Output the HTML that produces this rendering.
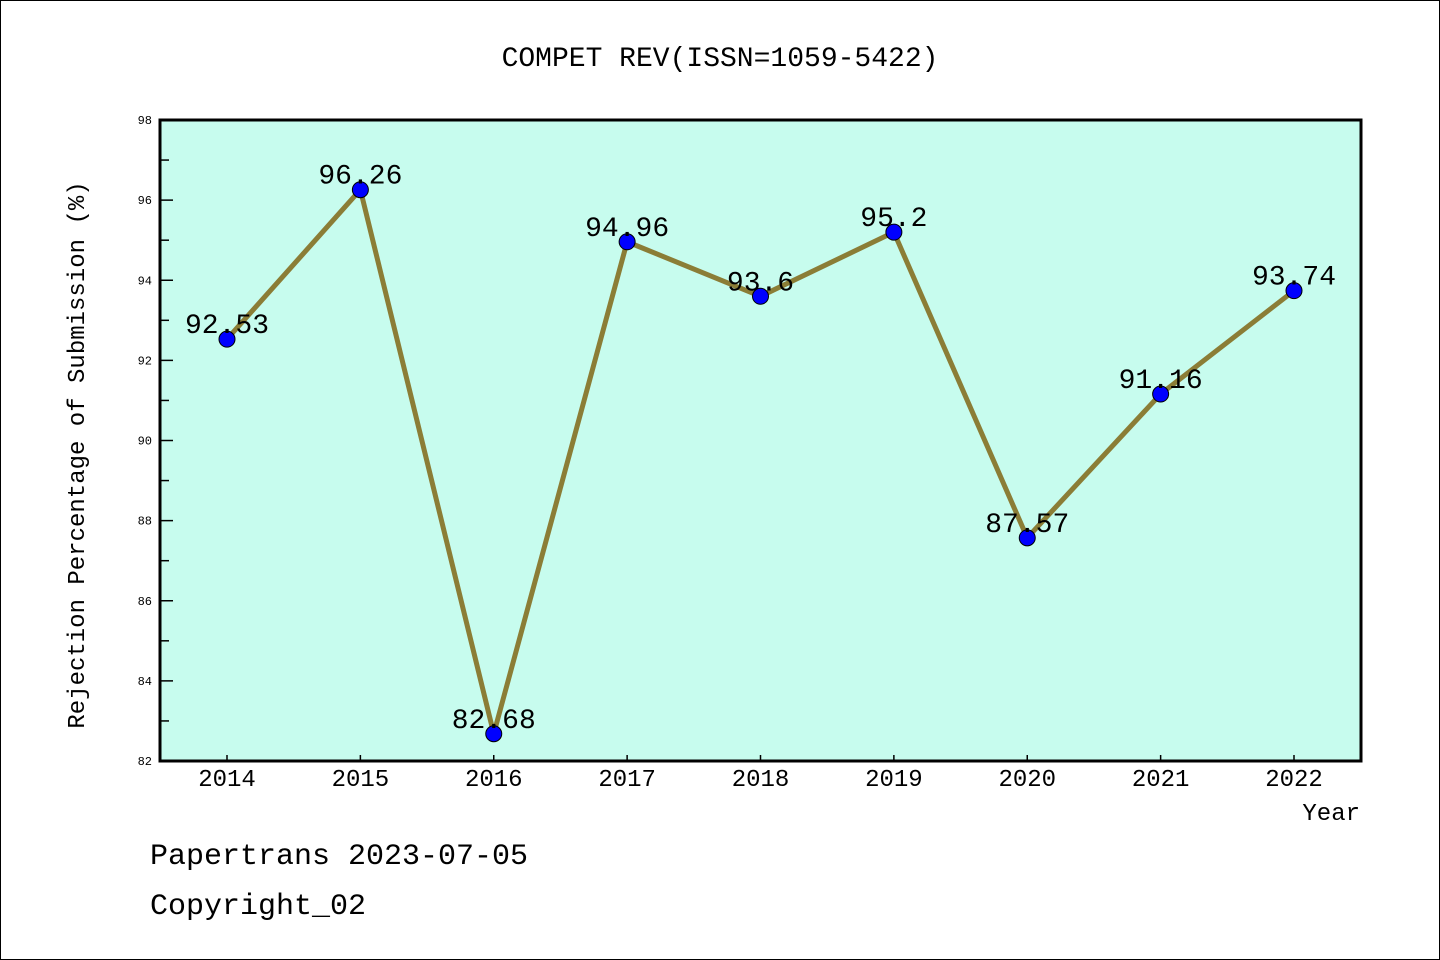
<!DOCTYPE html>
<html><head><meta charset="utf-8"><style>
html,body{margin:0;padding:0;background:#fff;}
svg{display:block;font-family:"WenQuanYi Zen Hei","Liberation Mono",monospace;}
</style></head><body>
<svg id="chart" width="1440" height="960" viewBox="0 0 1440 960">
<rect x="0.5" y="0.5" width="1439" height="959" fill="#fff" stroke="#000" stroke-width="1"/>
<text x="720" y="66" text-anchor="middle" font-size="28">COMPET REV(ISSN=1059-5422)</text>
<rect x="160" y="120" width="1201" height="641" fill="#c7fcee"/>
<g id="ticks"></g>
<g id="series"></g>
<rect x="160" y="120" width="1201" height="641" fill="none" stroke="#000" stroke-width="3"/>
<text transform="translate(84,455) rotate(-90)" text-anchor="middle" font-size="24">Rejection Percentage of Submission (%)</text>
<text x="1360" y="820" text-anchor="end" font-size="24">Year</text>
<text x="150" y="864" font-size="30">Papertrans 2023-07-05</text>
<text x="150" y="914" font-size="30">Copyright_02</text>
</svg>
<script>
const years = ["2014","2015","2016","2017","2018","2019","2020","2021","2022"];
const values = [92.53,96.26,82.68,94.96,93.6,95.2,87.57,91.16,93.74];
const labels = ["92.53","96.26","82.68","94.96","93.6","95.2","87.57","91.16","93.74"];
const yTicks = [82,84,86,88,90,92,94,96,98];
const yMin = 82, yMax = 98;
const NS = "http://www.w3.org/2000/svg";
function xs(i){ return 227 + i*(1294-227)/(years.length-1); }
function ys(v){ return 761 - (v-yMin)/(yMax-yMin)*641; }
function mk(tag, attrs, parent){ const e=document.createElementNS(NS,tag); for(const k in attrs) e.setAttribute(k,attrs[k]); parent.appendChild(e); return e; }
const tg=document.getElementById('ticks');
yTicks.forEach(t=>{
  const y=ys(t);
  const l=mk('line',{x1:160,x2:173,y1:y,y2:y,stroke:'#000','stroke-width':1.5},tg);
  
  
  const tx=mk('text',{x:152,y:y+4,'text-anchor':'end','font-size':12},tg);
  tx.textContent=t;
  
  
  if(t<yMax){
    const ym=ys(t+1);
    const m=mk('line',{x1:160,x2:169,y1:ym,y2:ym,stroke:'#000','stroke-width':1.5},tg);
    
    
  }
});
years.forEach((yr,i)=>{
  const x=xs(i);
  const l=mk('line',{x1:x,x2:x,y1:761,y2:755,stroke:'#000','stroke-width':1.5},tg);
  
  
  const tx=mk('text',{x:x,y:786,'text-anchor':'middle','font-size':24},tg);
  tx.textContent=yr;
  
  
});
const sg=document.getElementById('series');
const pts=values.map((v,i)=>xs(i)+','+ys(v)).join(' ');
const pl=mk('polyline',{points:pts,fill:'none',stroke:'#8b7d36','stroke-width':5,'stroke-linejoin':'round'},sg);


values.forEach((v,i)=>{
  const c=mk('circle',{cx:xs(i),cy:ys(v),r:8,fill:'#0000ff',stroke:'#000','stroke-width':1},sg);
  
  
});
values.forEach((v,i)=>{
  const t=mk('text',{x:xs(i),y:ys(v)-6,'text-anchor':'middle','font-size':28},sg);
  t.textContent=labels[i];
  
  
});
</script>
</body></html>
